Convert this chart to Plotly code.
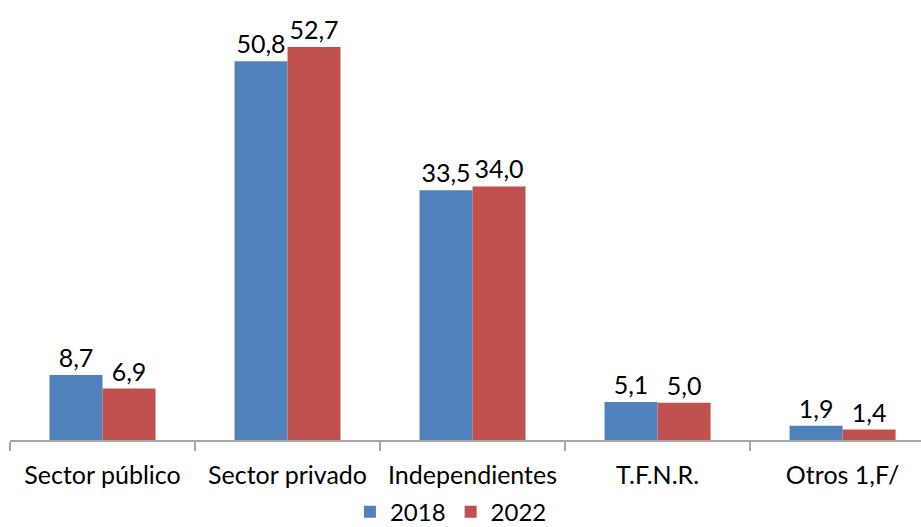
import plotly.graph_objects as go

categories = ["Sector público", "Sector privado", "Independientes", "T.F.N.R.", "Otros 1,F/"]
values_2018 = [8.7, 50.8, 33.5, 5.1, 1.9]
values_2022 = [6.9, 52.7, 34.0, 5.0, 1.4]
series_names = ["2018", "2022"]
colors = ["#4F81BD", "#C0504D"]

def fmt(v):
    return f"{v:.1f}".replace(".", ",")

fig = go.Figure()
for name, vals, col in zip(series_names, [values_2018, values_2022], colors):
    fig.add_trace(go.Bar(
        x=categories, y=vals, name=name,
        marker=dict(color=col, line=dict(width=0)),
        text=[fmt(v) for v in vals], textposition="outside",
        textfont=dict(size=25, color="black", family="Lato"),
        cliponaxis=False,
    ))

fig.update_layout(
    width=921, height=527,
    margin=dict(l=10, r=0, t=0, b=87, autoexpand=False),
    barmode="group", bargap=0.427, bargroupgap=0,
    plot_bgcolor="white", paper_bgcolor="white",
    font=dict(family="Lato", size=25, color="black"),
    legend=dict(orientation="h", x=0.484, xanchor="center", y=-0.164, yanchor="middle",
                font=dict(size=24), itemwidth=30, traceorder="normal"),
    uniformtext=dict(mode=False),
)
fig.update_xaxes(
    range=[-0.5, 4.424], showline=True, linecolor="#A6A6A6", linewidth=1.5,
    ticks="outside", tickson="boundaries", ticklen=9, tickcolor="#A6A6A6", tickwidth=1.5,
    showgrid=False, tickfont=dict(size=25, color="black"), ticklabelstandoff=12,
    automargin=False,
)
fig.update_yaxes(range=[0, 59], visible=False, showgrid=False)

fig.write_html("out.html", config={"displayModeBar": False},
               post_script="document.body.style.margin='0';")
